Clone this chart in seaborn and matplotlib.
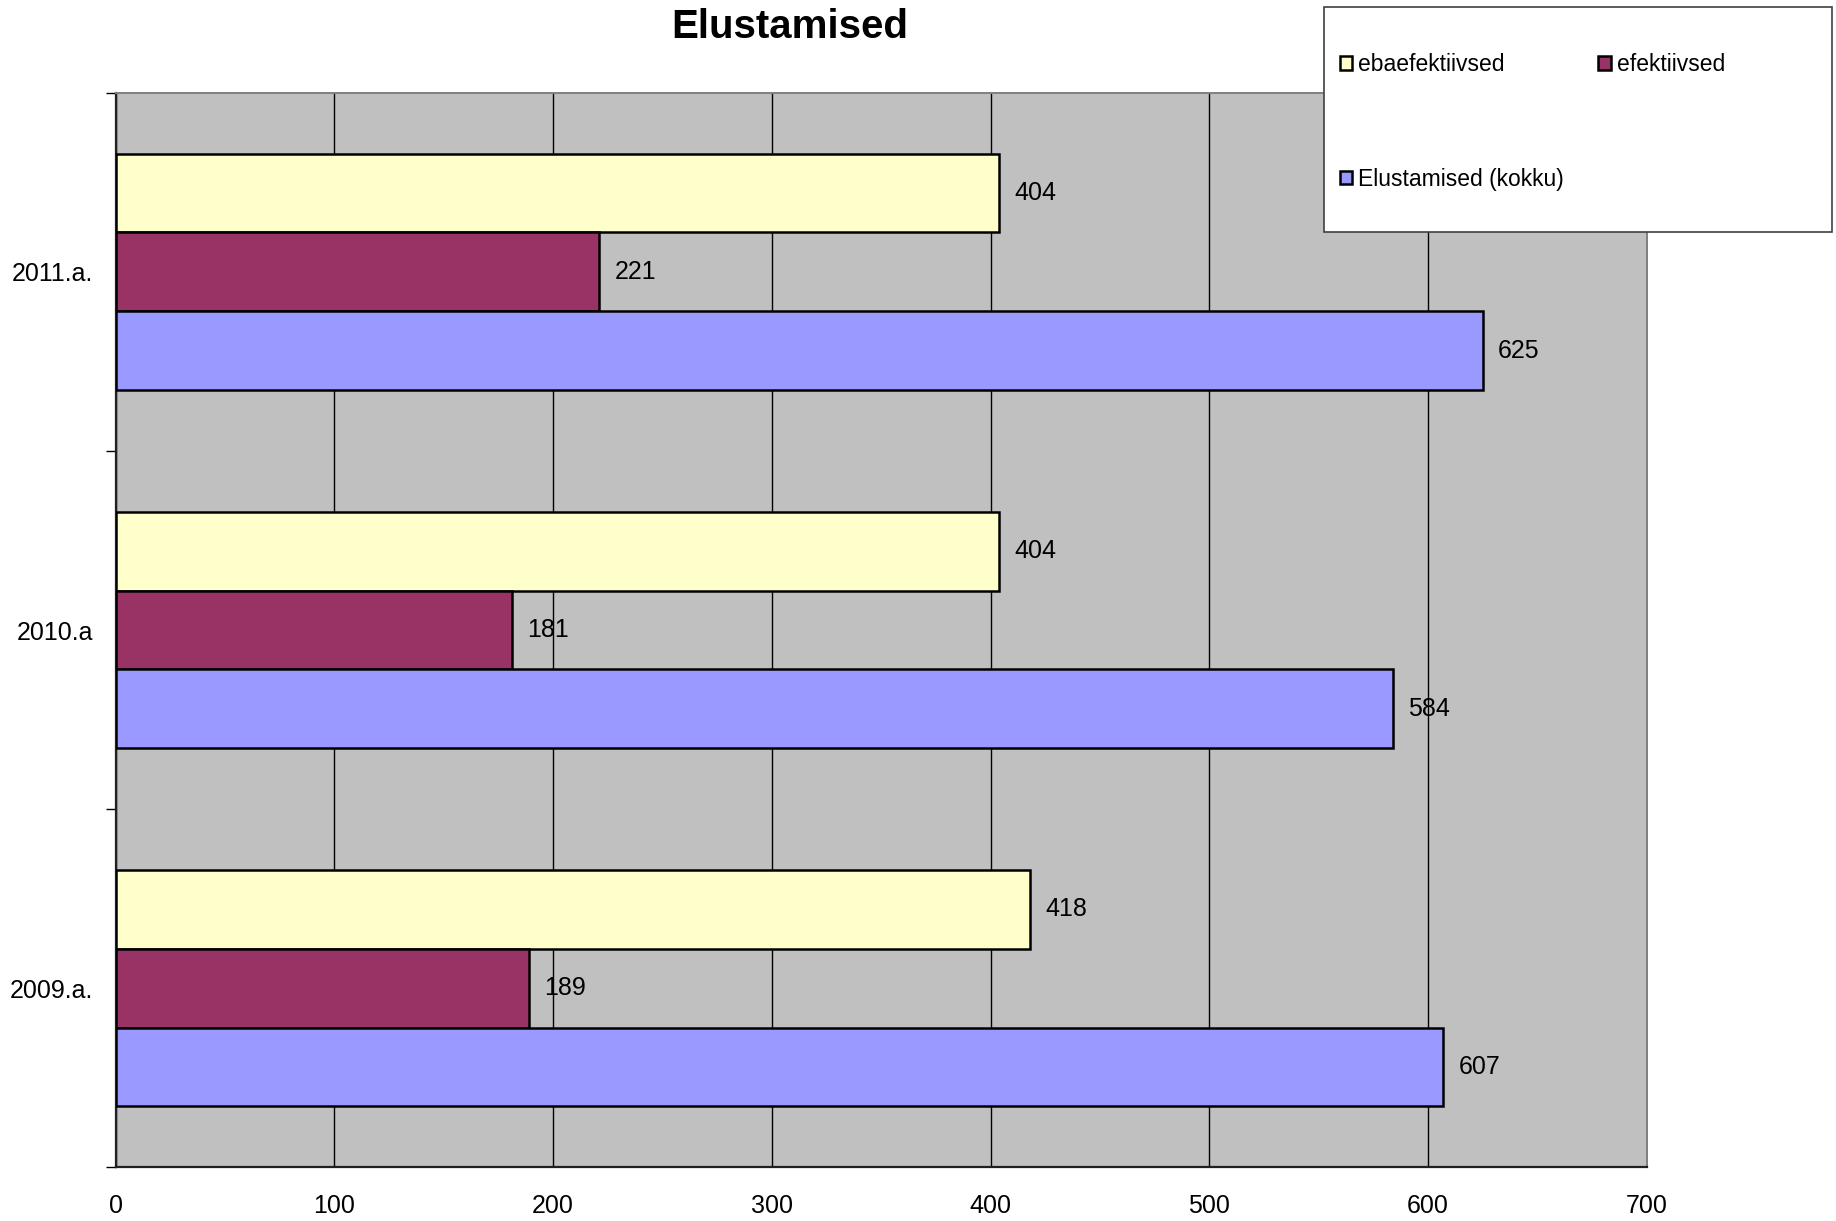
import pandas as pd
import matplotlib
matplotlib.use('Agg')
import matplotlib.pyplot as plt
from matplotlib.patches import Rectangle
import seaborn as sns

# data
years = ['2011.a.', '2010.a', '2009.a.']
series = ['ebaefektiivsed', 'efektiivsed', 'Elustamised (kokku)']
ebaefektiivsed = [404, 404, 418]
efektiivsed = [221, 181, 189]
kokku = [625, 584, 607]
x_ticks = [0, 100, 200, 300, 400, 500, 600, 700]
colors = ['#FFFFCC', '#993366', '#9999FF']

rows = []
for name, vals in zip(series, [ebaefektiivsed, efektiivsed, kokku]):
    for yr, v in zip(years, vals):
        rows.append({'year': yr, 'series': name, 'value': v})
df = pd.DataFrame(rows)

sns.set_style('white')
plt.rcParams['font.family'] = ['Liberation Sans', 'DejaVu Sans']
for key in ['text.color', 'axes.labelcolor', 'xtick.color', 'ytick.color']:
    plt.rcParams[key] = 'black'

fig = plt.figure(figsize=(18.36, 12.21), dpi=100)
ax = fig.add_axes([0.063, 0.044, 0.834, 0.880])
ax.set_facecolor('#C0C0C0')

sns.barplot(data=df, x='value', y='year', hue='series', order=years,
            hue_order=series, palette=colors, width=0.66, saturation=1,
            edgecolor='black', linewidth=1.8, orient='h', errorbar=None,
            legend=True, ax=ax, zorder=3)

for cont in ax.containers:
    ax.bar_label(cont, padding=11, fontsize=18, color='black')

ax.set_xlim(0, 700)
ax.set_ylim(2.5, -0.5)
ax.set_xticks(x_ticks)
ax.set_xticklabels([str(t) for t in x_ticks], fontsize=18)
ax.tick_params(axis='x', direction='out', length=7, width=1, pad=12, colors='black')

# band boundaries as ticks, category labels in between
ax.set_yticks([-0.5, 0.5, 1.5, 2.5])
ax.set_yticklabels([])
ax.set_yticks([0, 1, 2], minor=True)
ax.set_yticklabels(years, minor=True, fontsize=18)
ax.tick_params(axis='y', which='major', direction='out', length=7, width=1, left=True)
ax.tick_params(axis='y', which='minor', length=0, pad=16)

ax.xaxis.grid(True, color='black', linewidth=1.0, zorder=0)
ax.yaxis.grid(False)
ax.set_axisbelow(True)
ax.set_xlabel('')
ax.set_ylabel('')

for side in ['left', 'bottom']:
    ax.spines[side].set_color('#202020')
    ax.spines[side].set_linewidth(1.6)
for side in ['top', 'right']:
    ax.spines[side].set_color('#808080')
    ax.spines[side].set_linewidth(1.4)

# legend box, entries ordered so columns read like the reference
handles, labels = ax.get_legend_handles_labels()
ax.get_legend().remove()
order = [0, 2, 1]
handles = [handles[i] for i in order]
labels = [labels[i] for i in order]
fig.patches.append(Rectangle((0.721, 0.810), 0.277, 0.184, transform=fig.transFigure,
                             facecolor='white', edgecolor='#404040', linewidth=1.2, zorder=5))
leg = fig.legend(handles, labels, loc='upper left', bbox_to_anchor=(0.7235, 0.966),
                 ncol=2, frameon=False, fontsize=16.5, borderpad=0, labelspacing=4.0,
                 handlelength=0.55, handleheight=0.55, handletextpad=0.25,
                 columnspacing=1.5)
leg.set_zorder(6)
for h in leg.legend_handles:
    h.set_edgecolor('black')
    h.set_linewidth(1.8)

fig.text(0.43, 0.978, 'Elustamised', ha='center', va='center',
         fontsize=29, fontweight='bold')

fig.savefig('out.png', dpi=100)
